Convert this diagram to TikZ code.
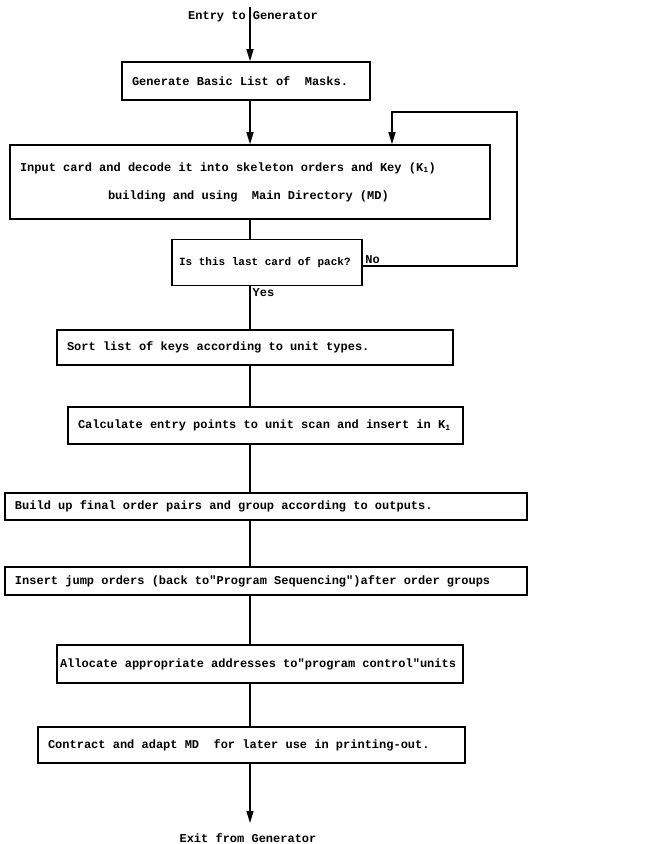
\documentclass[tikz,border=0pt]{standalone}
\usepackage{fontspec}
\newfontfamily\typer{Liberation Mono}
\usetikzlibrary{arrows.meta,positioning}

\tikzset{
  stepbox/.style={draw, rectangle, line width=1.6pt, align=flush left, inner xsep=10pt,
    font=\typer\bfseries\fontsize{12}{14}\selectfont},
  label/.style={font=\typer\bfseries\fontsize{12}{14}\selectfont, inner sep=2pt},
  link/.style={draw, line width=1.3pt},
  flow/.style={link, -{Triangle[length=12pt,width=7pt]}}
}

\begin{document}
\begin{tikzpicture}[x=1pt,y=-1pt,node distance=80pt,on grid]
   \useasboundingbox (0,0) rectangle (652,844);
   \coordinate (spine) at (250,0);
   \coordinate (entry) at (250,7);
   \coordinate (exit) at (250,823);
   \coordinate (looptop) at (517,112);

   \node[label] (entrytxt) at (253,17) {Entry to Generator};
   \node[label] (exittxt) at (248,838) {Exit from Generator};

   \node[stepbox, text width=228pt, minimum height=38pt] (masks) at (246,81)
        {Generate Basic List of\ \ Masks.};
   \node[stepbox, text width=460pt, minimum height=74pt] (input) [below right=101pt and 4pt of masks]
        {Input card and decode it into skeleton orders and Key (K\textsubscript{1})\\[14pt]
         \hspace*{88pt}building and using\ \ Main Directory (MD)};
   \node[stepbox, text width=176pt, inner xsep=7pt, minimum height=46pt,
         font=\typer\bfseries\fontsize{11}{13}\selectfont] (lastcard) [below right=80.5pt and 17pt of input]
        {Is this last card of pack?};
   \node[stepbox, text width=376pt, minimum height=35pt] (sortkeys) [below left=85pt and 12pt of lastcard]
        {Sort list of keys according to unit types.};
   \node[stepbox, text width=375pt, minimum height=37pt] (entrypts) [below right=78pt and 10.5pt of sortkeys]
        {Calculate entry points to unit scan and insert in K\textsubscript{1}};
   \node[stepbox, text width=502pt, minimum height=27pt] (orderpairs) [below right=81pt and 0.5pt of entrypts]
        {Build up final order pairs and group according to outputs.};
   \node[stepbox, text width=502pt, minimum height=28pt] (jumporders) [below=74.5pt of orderpairs]
        {Insert jump orders (back to"Program Sequencing")after order groups};
   \node[stepbox, text width=400pt, inner xsep=3pt, minimum height=38pt] (addresses) [below left=83pt and 6pt of jumporders]
        {Allocate appropriate addresses to"program control"units};
   \node[stepbox, text width=407pt, minimum height=36pt] (contract) [below left=81pt and 8.5pt of addresses]
        {Contract and adapt MD\ \ for later use in printing-out.};

   \draw[flow] (entry) -- (masks.north -| spine);
   \draw[flow] (masks.south -| spine) -- (input.north -| spine);
   \draw[link] (input.south -| spine) -- (lastcard.north -| spine);
   \draw[flow] ([yshift=-3.5pt]lastcard.east) node[label, above right] {No}
        -| (looptop) -| ([xshift=142pt]input.north);
   \draw[link] (lastcard.south -| spine) node[label, below right] {Yes}
        -- (sortkeys.north -| spine);
   \foreach \a/\b in {sortkeys/entrypts, entrypts/orderpairs, orderpairs/jumporders,
                      jumporders/addresses, addresses/contract}
     \draw[link] (\a.south -| spine) -- (\b.north -| spine);
   \draw[flow] (contract.south -| spine) -- (exit);
\end{tikzpicture}
\end{document}
